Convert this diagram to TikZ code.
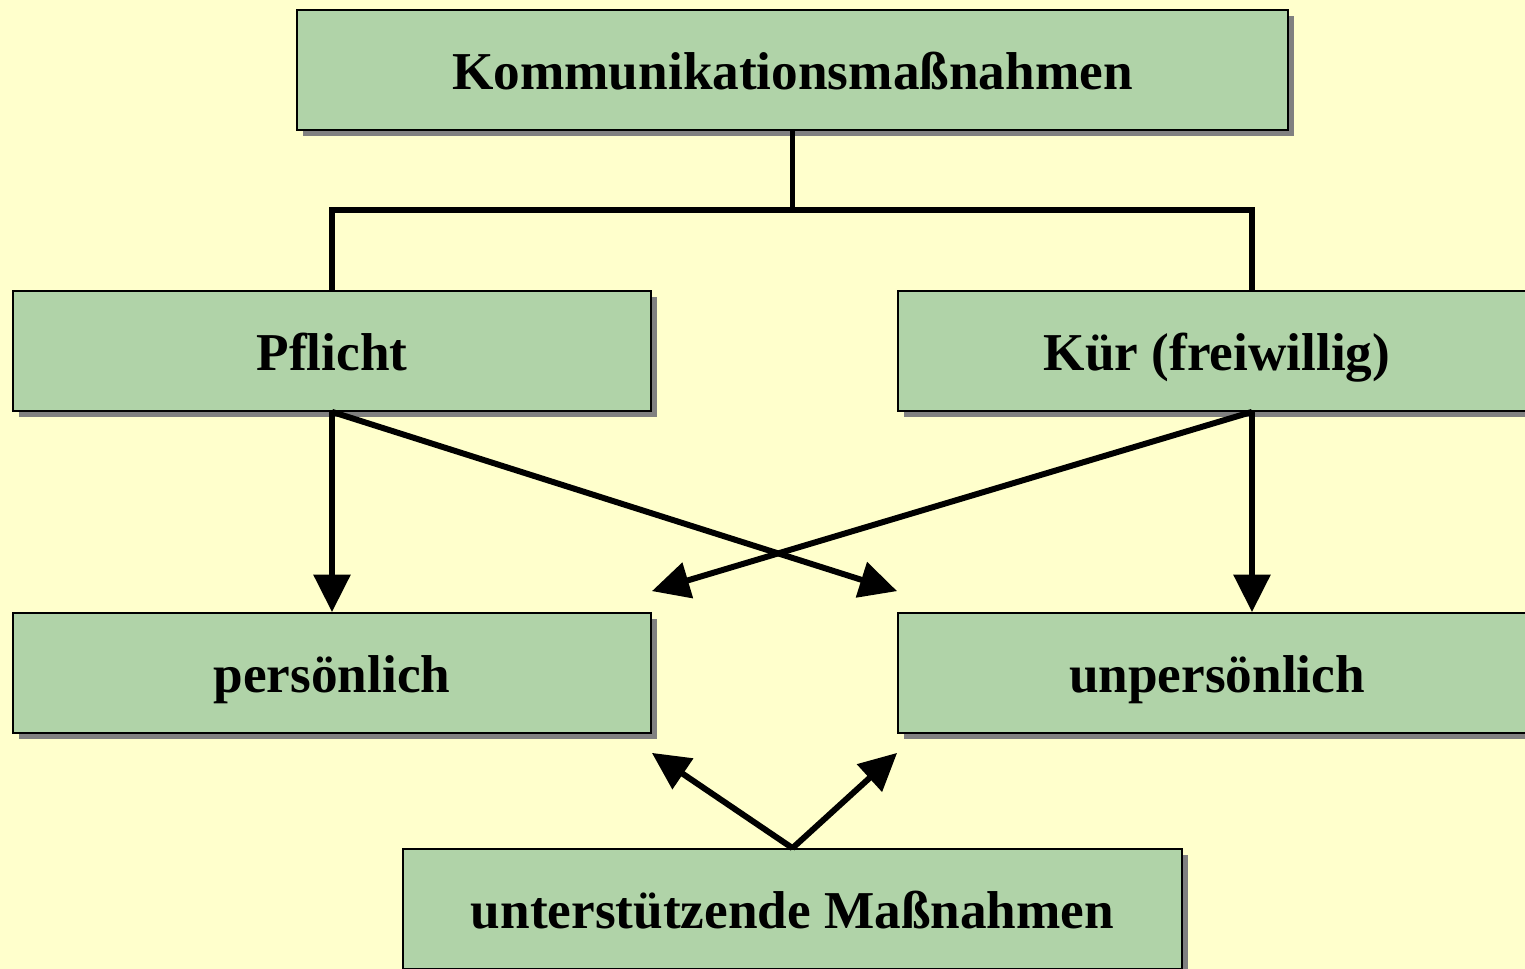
\documentclass[tikz,border=0pt]{standalone}
\usepackage{fontspec}
\setmainfont{Liberation Serif}
\usetikzlibrary{arrows.meta,shadows,calc}
\definecolor{bgyellow}{HTML}{FFFFCC}
\definecolor{boxgreen}{HTML}{B0D3A8}

\begin{document}
\begin{tikzpicture}[
	box/.style={draw, line width=1pt, fill=boxgreen, minimum height=2.4cm,
		text height=22pt, text depth=0pt,
		font=\fontsize{30.3}{34}\selectfont\bfseries,
		drop shadow={shadow xshift=0.12cm, shadow yshift=-0.12cm, fill=gray!100, opacity=1}},
	link/.style={line width=3.4pt},
	arr/.style={line width=3.4pt, -{Triangle[length=0.75cm, width=0.72cm]}}
	]
	\fill[bgyellow] (0,0) rectangle (30.5,-19.38);
	\useasboundingbox (0,0) rectangle (30.5,-19.38);

	\node[box, minimum width=19.82cm] (top) at (15.85,-1.4) {Kommunikationsmaßnahmen};
	\node[box, minimum width=12.76cm] (pf) at (6.64,-7.02) {Pflicht};
	\node[box, minimum width=12.76cm] (kuer) at (24.34,-7.02) {Kür (freiwillig)};
	\node[box, minimum width=12.76cm] (pers) at (6.64,-13.46) {persönlich};
	\node[box, minimum width=12.76cm] (unp) at (24.34,-13.46) {unpersönlich};
	\node[box, minimum width=15.58cm] (unt) at (15.85,-18.18) {unterstützende Maßnahmen};

	\coordinate (kn) at ($(kuer.north)+(0.7,0)$);
	\coordinate (ks) at ($(kuer.south)+(0.7,0)$);
	\coordinate (us) at ($(unp.north)+(0.7,0)$);

	\draw [link] (top.south) -- ++(0,-1.58) -| (pf.north);
	\draw [link] (top.south) -- ++(0,-1.58) -| (kn);

	\draw [arr] (pf.south) -- (pers.north);
	\draw [arr] (pf.south) -- ($(unp.north west)+(0,0.42)$);
	\draw [arr] (ks) -- ($(pers.north east)+(0,0.42)$);
	\draw [arr] (ks) -- (us);

	\draw [arr] (unt.north) -- ($(pers.south east)+(0,-0.38)$);
	\draw [arr] (unt.north) -- ($(unp.south west)+(0,-0.38)$);

\end{tikzpicture}
\end{document}
